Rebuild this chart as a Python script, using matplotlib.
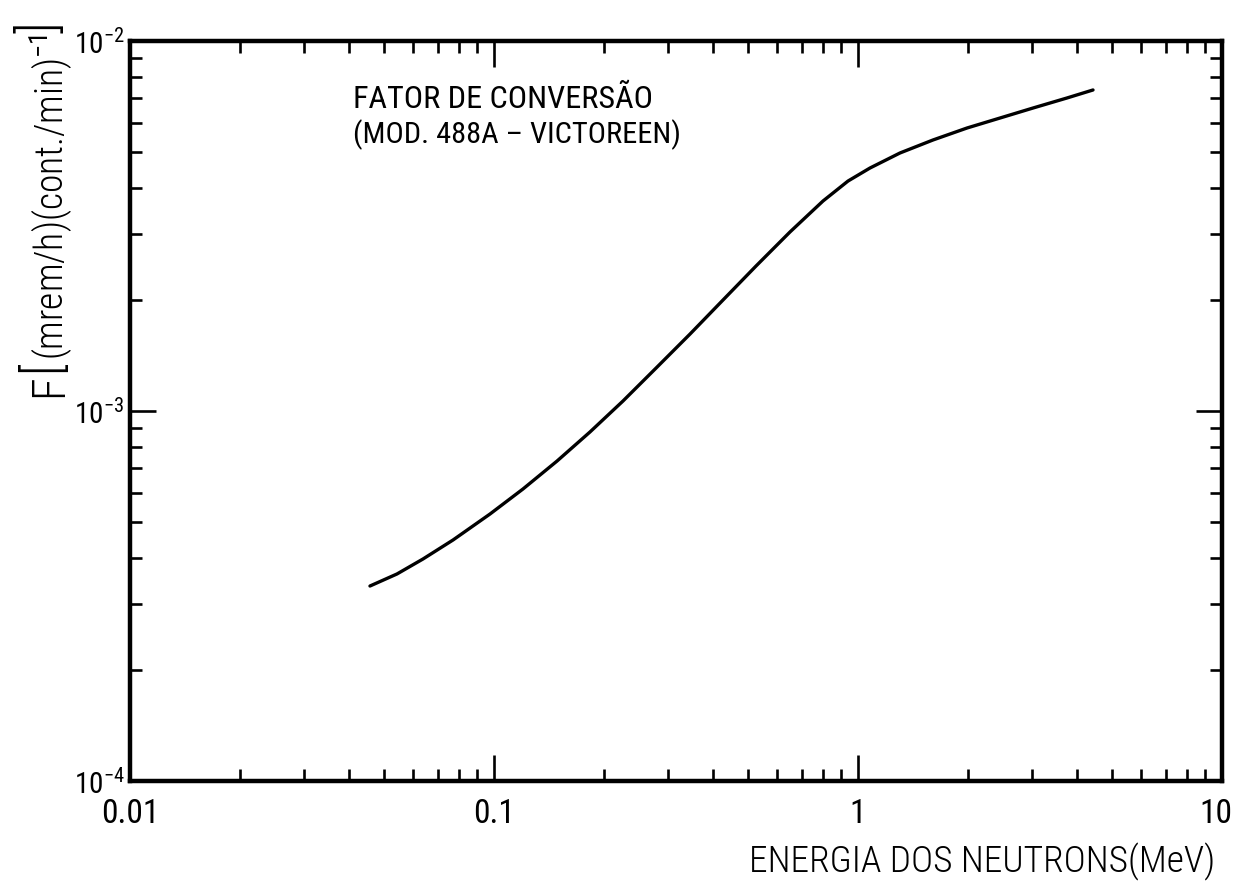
import matplotlib
matplotlib.use("Agg")
import matplotlib.pyplot as plt
from matplotlib import font_manager
from matplotlib.transforms import ScaledTranslation
from matplotlib.ticker import LogLocator, NullFormatter

# Conversion factor curve for the Victoreen 488A neutron monitor
energy_mev = [0.04563, 0.05414, 0.06381, 0.07717, 0.0975, 0.1201, 0.1490,
              0.1835, 0.2261, 0.2787, 0.3455, 0.4257, 0.5246, 0.6504, 0.8013,
              0.9387, 1.079, 1.304, 1.607, 1.993, 2.455, 3.026, 3.752, 4.422]
factor = [3.365e-4, 3.627e-4, 3.981e-4, 4.481e-4, 5.267e-4, 6.154e-4,
          7.324e-4, 8.775e-4, 1.064e-3, 1.306e-3, 1.614e-3, 1.995e-3,
          2.465e-3, 3.047e-3, 3.694e-3, 4.183e-3, 4.537e-3, 4.981e-3,
          5.401e-3, 5.819e-3, 6.192e-3, 6.590e-3, 7.015e-3, 7.373e-3]

x_ticks = [0.01, 0.1, 1, 10]
x_tick_labels = ["0.01", "0.1", "1", "10"]
y_ticks = [1e-4, 1e-3, 1e-2]
y_tick_labels = [r"$10^{-4}$", r"$10^{-3}$", r"$10^{-2}$"]

title_lines = ["FATOR DE CONVERSÃO", "(MOD. 488A – VICTOREEN)"]
x_label = "ENERGIA DOS NEUTRONS(MeV)"
y_label_parts = ["F", "[", r"(mrem/h)(cont./min)$^{-1}$", "]"]

# pick the narrowest sans family that is available
available = {f.name for f in font_manager.fontManager.ttflist}
narrow = "Liberation Sans"
for cand in ["Roboto Condensed", "Liberation Sans Narrow", "Open Sans Condensed"]:
    if cand in available:
        narrow = cand
        break

plt.rcParams["font.family"] = [narrow, "DejaVu Sans"]
plt.rcParams["mathtext.fontset"] = "custom"
plt.rcParams["mathtext.rm"] = narrow
plt.rcParams["mathtext.it"] = narrow
plt.rcParams["mathtext.bf"] = narrow + ":bold"

W, H = 1235, 889
fig = plt.figure(figsize=(W / 100, H / 100), dpi=100)
left, right, top, bottom = 130, 1222, 41, 781
ax = fig.add_axes([left / W, 1 - bottom / H, (right - left) / W, (bottom - top) / H])

ax.plot(energy_mev, factor, color="black", lw=2.4,
        solid_capstyle="round", solid_joinstyle="round")

ax.set_xscale("log")
ax.set_yscale("log")
ax.set_xlim(0.01, 10)
ax.set_ylim(1e-4, 1e-2)

ax.set_xticks(x_ticks)
ax.set_xticklabels(x_tick_labels)
ax.set_yticks(y_ticks)
ax.set_yticklabels(y_tick_labels)
ax.xaxis.set_minor_locator(LogLocator(base=10, subs=range(2, 10)))
ax.yaxis.set_minor_locator(LogLocator(base=10, subs=range(2, 10)))
ax.xaxis.set_minor_formatter(NullFormatter())
ax.yaxis.set_minor_formatter(NullFormatter())

for s in ax.spines.values():
    s.set_linewidth(3.2)

ax.tick_params(which="both", direction="in", top=True, right=True, color="black")
ax.tick_params(which="major", length=19, width=1.9)
ax.tick_params(which="minor", length=8.5, width=1.9)
ax.tick_params(axis="x", which="major", pad=12, labelsize=24)
ax.tick_params(axis="y", which="major", pad=4, labelsize=21)

# keep the last x tick label inside the figure
last = ax.get_xticklabels()[-1]
last.set_transform(last.get_transform() + ScaledTranslation(-6 / 100, 0, fig.dpi_scale_trans))

t1 = fig.text(353 / W, 1 - 108 / H, title_lines[0], fontsize=18,
              ha="left", va="baseline", fontweight="normal")
t2 = fig.text(353 / W, 1 - 143 / H, title_lines[1], fontsize=18,
              ha="left", va="baseline", fontweight="normal")
xl = fig.text(1215 / W, 1 - 862 / H, x_label, fontsize=22, ha="right",
              va="center", fontweight="light")

renderer = fig.canvas.get_renderer()


def fit_width(txt, width_px):
    """Scale a text's font size so its rendered width equals width_px."""
    bb = txt.get_window_extent(renderer=renderer)
    txt.set_fontsize(txt.get_fontsize() * width_px / bb.width)


fit_width(t1, 300)
fit_width(t2, 327)
fit_width(xl, 467)

# rotated y label, built bottom-up so the square brackets can be taller
sizes = [33, 37, 27, 37]
columns = [62, 43, 64, 41]   # baseline column for text, centre column for brackets
gaps = [2, 1, 1, 0]
cursor = 397                 # pixel row where the label starts (from the top)
for part, size, col, gap in zip(y_label_parts, sizes, columns, gaps):
    is_bracket = part in "[]"
    t = fig.text(
        col / W, 1 - cursor / H, part,
        rotation=90, rotation_mode="anchor", ha="left",
        va="center" if is_bracket else "baseline",
        fontsize=size, fontweight="light",
    )
    bb = t.get_window_extent(renderer=renderer)
    cursor -= bb.height + gap

fig.savefig("out.png", dpi=100, facecolor="white")
